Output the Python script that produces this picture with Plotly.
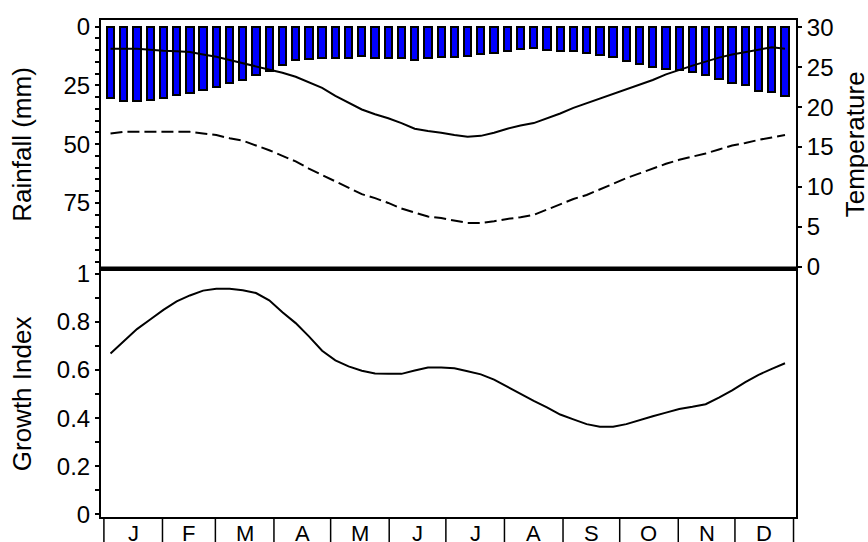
import plotly.graph_objects as go

weeks = list(range(1, 53))

rainfall_mm = [30.3, 31.7, 31.7, 31.0, 30.3, 29.0, 28.2, 26.8, 25.5, 24.1, 22.7, 20.7,
               18.8, 16.5, 14.4, 13.6, 13.2, 13.2, 13.2, 12.5, 13.2, 13.2, 13.2, 14.1,
               13.2, 13.1, 13.1, 12.4, 11.8, 11.3, 10.3, 9.7, 9.0, 9.8, 10.5, 10.5,
               11.3, 12.0, 13.0, 14.8, 15.9, 17.2, 18.0, 18.3, 19.3, 20.4, 22.1, 24.0,
               24.9, 27.5, 27.9, 29.6]

temp_max = [27.3, 27.3, 27.3, 27.2, 27.05, 27.0, 26.9, 26.6, 26.3, 25.9, 25.5, 25.1,
            24.7, 24.3, 23.8, 23.1, 22.4, 21.4, 20.6, 19.7, 19.1, 18.6, 18.0, 17.3,
            17.0, 16.8, 16.5, 16.3, 16.4, 16.8, 17.3, 17.7, 18.0, 18.6, 19.2, 19.9,
            20.5, 21.1, 21.7, 22.3, 22.8, 23.4, 24.1, 24.7, 25.2, 25.7, 26.2, 26.6,
            26.9, 27.2, 27.5, 27.3]

temp_min = [16.7, 16.9, 16.9, 16.9, 16.9, 16.9, 16.9, 16.7, 16.5, 16.1, 15.8, 15.2,
            14.6, 13.9, 13.2, 12.3, 11.5, 10.6, 9.9, 9.1, 8.6, 8.0, 7.3, 6.8,
            6.3, 6.1, 5.8, 5.5, 5.5, 5.7, 6.0, 6.2, 6.5, 7.2, 7.8, 8.5,
            9.0, 9.7, 10.5, 11.1, 11.7, 12.3, 12.9, 13.4, 13.8, 14.2, 14.7, 15.2,
            15.5, 15.9, 16.2, 16.5]

growth_index = [0.669, 0.72, 0.77, 0.81, 0.85, 0.885, 0.91, 0.93, 0.938, 0.938, 0.932, 0.92,
                0.89, 0.84, 0.795, 0.74, 0.68, 0.64, 0.615, 0.597, 0.586, 0.584, 0.584, 0.598,
                0.61, 0.61, 0.607, 0.595, 0.582, 0.56, 0.53, 0.50, 0.472, 0.445, 0.415, 0.395,
                0.375, 0.364, 0.364, 0.375, 0.393, 0.408, 0.423, 0.438, 0.447, 0.458, 0.485, 0.515,
                0.55, 0.58, 0.605, 0.628]

month_labels = ['J', 'F', 'M', 'A', 'M', 'J', 'J', 'A', 'S', 'O', 'N', 'D']
month_days = [31, 28, 31, 30, 31, 30, 31, 31, 30, 31, 30, 31]

rain_ticks = [0, 25, 50, 75]
temp_ticks = [0, 5, 10, 15, 20, 25, 30]
growth_ticks = [0, 0.2, 0.4, 0.6, 0.8, 1]
growth_ticktext = ['0', '0.2', '0.4', '0.6', '0.8', '1']

FONT = "Liberation Sans, Arial, sans-serif"

fig = go.Figure()

fig.add_trace(go.Bar(x=weeks, y=rainfall_mm, width=0.55, base=0,
                     marker=dict(color='#0000FF', line=dict(color='black', width=2)),
                     xaxis='x', yaxis='y', showlegend=False))
fig.add_trace(go.Scatter(x=weeks, y=temp_max, mode='lines',
                         line=dict(color='black', width=2),
                         xaxis='x', yaxis='y3', showlegend=False))
fig.add_trace(go.Scatter(x=weeks, y=temp_min, mode='lines',
                         line=dict(color='black', width=2, dash='12px,5px'),
                         xaxis='x', yaxis='y3', showlegend=False))
fig.add_trace(go.Scatter(x=weeks, y=growth_index, mode='lines',
                         line=dict(color='black', width=2),
                         xaxis='x2', yaxis='y2', showlegend=False))

axis_common = dict(showline=True, linecolor='black', linewidth=2, showgrid=False,
                   zeroline=False)

fig.update_layout(
    width=868, height=542,
    margin=dict(l=101, r=72, t=17, b=25, pad=0),
    paper_bgcolor='white', plot_bgcolor='white',
    font=dict(family=FONT, size=24, color='black'),
    bargap=0,
    xaxis=dict(domain=[0, 1], anchor='y', range=[0.28, 52.83], mirror=True,
               showticklabels=False, ticks='', **axis_common),
    xaxis2=dict(domain=[0, 1], anchor='y2', matches='x', range=[0.28, 52.83], mirror=True,
                showticklabels=False, ticks='', **axis_common),
    yaxis=dict(domain=[0.5, 1], anchor='x', range=[102.83, -2.79],
               tickmode='array', tickvals=rain_ticks,
               ticks='outside', ticklen=4, tickwidth=1.5, tickcolor='black',
               minor=dict(tickmode='linear', tick0=0, dtick=5, ticks='outside',
                          ticklen=4, tickwidth=1.5, tickcolor='black'),
               tickfont=dict(size=24), **axis_common),
    yaxis3=dict(overlaying='y', side='right', anchor='x', range=[-0.21, 30.91],
                tickmode='array', tickvals=temp_ticks,
                ticks='outside', ticklen=4, tickwidth=1.5, tickcolor='black',
                tickfont=dict(size=24), **axis_common),
    yaxis2=dict(domain=[0, 0.5], anchor='x2', range=[-0.011, 1.022], mirror=True,
                tickmode='array', tickvals=growth_ticks, ticktext=growth_ticktext,
                ticks='outside', ticklen=4, tickwidth=1.5, tickcolor='black',
                minor=dict(tickmode='linear', tick0=0, dtick=0.1, ticks='outside',
                           ticklen=4, tickwidth=1.5, tickcolor='black'),
                tickfont=dict(size=24), **axis_common),
)

# thick separator between panels
fig.add_shape(type='line', xref='paper', yref='paper', x0=0, x1=1, y0=0.5, y1=0.5,
              line=dict(color='black', width=4))

# month boxes below the plot
bounds = [0.5]
for d in month_days:
    bounds.append(bounds[-1] + d / 7.0)
for b in bounds:
    fig.add_shape(type='line', xref='x', yref='paper', x0=b, x1=b, y0=0, y1=-0.12,
                  line=dict(color='black', width=1.5))
for i, lab in enumerate(month_labels):
    fig.add_annotation(x=(bounds[i] + bounds[i + 1]) / 2, y=0, xref='x', yref='paper',
                       text=lab, showarrow=False, yanchor='top', yshift=-2,
                       font=dict(size=22, family=FONT, color='black'))

# axis titles
fig.add_annotation(text='Rainfall (mm)', xref='paper', yref='paper', x=-0.1137, y=0.751,
                   textangle=-90, showarrow=False, xanchor='center', yanchor='middle',
                   font=dict(size=26, family=FONT, color='black'))
fig.add_annotation(text='Growth Index', xref='paper', yref='paper', x=-0.1137, y=0.249,
                   textangle=-90, showarrow=False, xanchor='center', yanchor='middle',
                   font=dict(size=26, family=FONT, color='black'))
fig.add_annotation(text='Temperature', xref='paper', yref='paper', x=1.085, y=0.75,
                   textangle=-90, showarrow=False, xanchor='center', yanchor='middle',
                   font=dict(size=26, family=FONT, color='black'))

fig.write_html("out.html", config={'displayModeBar': False},
               post_script="document.body.style.margin='0';document.body.style.overflow='hidden';")
